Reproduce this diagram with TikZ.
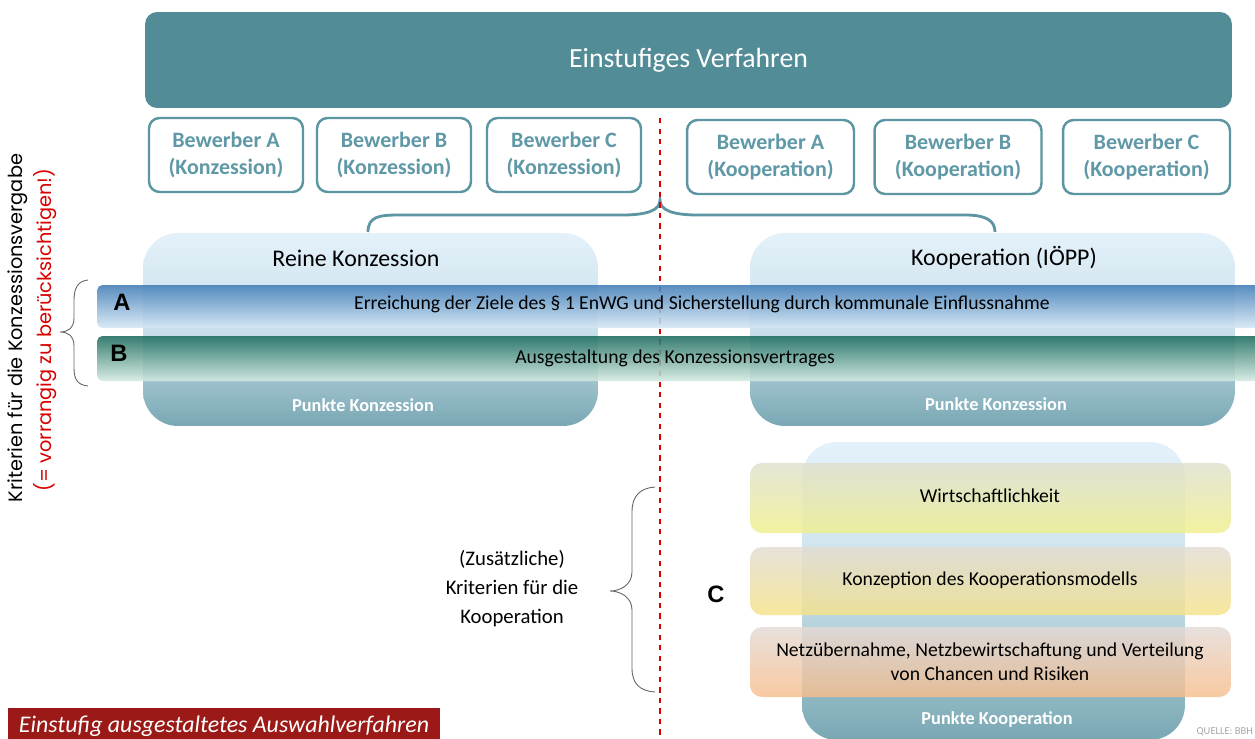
\documentclass[tikz,border=0pt]{standalone}
\usepackage{fontspec}
\setmainfont{Carlito}
\newfontfamily\geofont{Poppins}
\newfontfamily\arialfont{Liberation Sans}
\usetikzlibrary{positioning}
\definecolor{tealdark}{RGB}{82,140,150}
\definecolor{tealline}{RGB}{92,150,163}
\definecolor{tealtext}{RGB}{95,152,166}
\definecolor{paleblue}{RGB}{228,241,250}
\definecolor{midblue}{RGB}{200,224,234}
\definecolor{tealbot}{RGB}{120,167,179}
\definecolor{bandAtop}{RGB}{66,126,184}
\definecolor{bandAbot}{RGB}{214,232,245}
\definecolor{bandBtop}{RGB}{28,108,94}
\definecolor{bandBbot}{RGB}{212,235,226}
\definecolor{yelltop}{RGB}{224,224,206}
\definecolor{yellbot}{RGB}{240,240,140}
\definecolor{goldtop}{RGB}{226,220,210}
\definecolor{goldbot}{RGB}{246,226,136}
\definecolor{orantop}{RGB}{228,218,214}
\definecolor{oranbot}{RGB}{248,190,140}
\definecolor{redbanner}{RGB}{155,25,22}
\definecolor{bracegray}{RGB}{100,100,100}
\tikzset{
  bewerber/.style={draw=tealline, line width=1.4pt, rounded corners=6pt, fill=white,
    text=tealtext, font=\fontsize{12.5}{15}\selectfont\bfseries, align=center, inner sep=0pt},
  panel/.style={rounded corners=0.7cm, top color=paleblue, bottom color=tealbot,
    middle color=midblue, inner sep=0pt},
  band/.style={rounded corners=3pt, fill opacity=0.88, inner sep=0pt},
  cband/.style={rounded corners=0.24cm, fill opacity=0.82, inner sep=0pt},
  bandtext/.style={font=\fontsize{11.2}{13.5}\selectfont, align=center},
  punkte/.style={text=white, font=\fontsize{10.4}{12}\selectfont\bfseries},
  letter/.style={font=\fontsize{13.5}{15}\selectfont\arialfont\bfseries},
  brace/.style={draw=bracegray, line width=0.5pt},
}
\begin{document}
\begin{tikzpicture}[x=0.02cm,y=-0.02cm]
\useasboundingbox[fill=white] (0,0) rectangle (1255,738);
% header
\node[fill=tealdark, rounded corners=0.24cm, minimum width=21.74cm, minimum height=1.92cm,
  text=white, font=\fontsize{15.8}{18}\selectfont] (verfahren) at (688.5,60) {Einstufiges Verfahren};
% Bewerber
\node[bewerber, minimum width=3.08cm, minimum height=1.48cm] (bka) at (226,155) {Bewerber A\\(Konzession)};
\node[bewerber, minimum width=3.08cm, minimum height=1.48cm] (bkb) at (394,155) {Bewerber B\\(Konzession)};
\node[bewerber, minimum width=3.08cm, minimum height=1.48cm] (bkc) at (564,155) {Bewerber C\\(Konzession)};
\node[bewerber, minimum width=3.34cm, minimum height=1.48cm] (bpa) at (770.5,157) {Bewerber A\\(Kooperation)};
\node[bewerber, minimum width=3.34cm, minimum height=1.48cm] (bpb) at (958,157) {Bewerber B\\(Kooperation)};
\node[bewerber, minimum width=3.34cm, minimum height=1.48cm] (bpc) at (1146.5,157) {Bewerber C\\(Kooperation)};
% teal brace
\coordinate (bl) at (368,232);
\coordinate (tip) at (660,200);
\coordinate (br) at (995,232);
\draw[tealline, line width=1.6pt] (bl) .. controls (368,216) and (380,215) .. (400,215)
  -- (622,215) .. controls (648,215) and (660,210) .. (tip)
  .. controls (660,210) and (672,215) .. (698,215)
  -- (965,215) .. controls (985,215) and (995,220) .. (br);
% panels
\node[panel, minimum width=9.1cm, minimum height=3.86cm] (reine) at (370.5,329.5) {};
\node[panel, minimum width=9.7cm, minimum height=3.86cm] (koop) at (992.5,329.5) {};
\node[panel, minimum width=7.66cm, minimum height=5.96cm] (koopC) at (993.5,591) {};
\node[font=\fontsize{13.6}{15}\selectfont] (reinetxt) at (356,258) {Reine Konzession};
\node[font=\fontsize{13.6}{15}\selectfont] (kooptxt) at (1004,258) {Kooperation (IÖPP)};
\node[punkte] (pk1) at (363,405) {Punkte Konzession};
\node[punkte] (pk2) at (996,404) {Punkte Konzession};
\node[punkte] (pk3) at (997,720) {Punkte Kooperation};
% dashed divider
\coordinate (dtop) at (660,118);
\coordinate (dbot) at (660,738);
\draw[red!85!black, dashed, line width=0.7pt] (dtop) -- (dbot);
% bands A and B
\node[band, top color=bandAtop, bottom color=bandAbot, minimum width=23.36cm, minimum height=0.86cm] (bandA) at (681,306.5) {};
\node[band, top color=bandBtop, bottom color=bandBbot, minimum width=23.36cm, minimum height=0.9cm] (bandB) at (681,358.5) {};
\node[bandtext] (txtA) at (702,304) {Erreichung der Ziele des \S\ 1 EnWG und Sicherstellung durch kommunale Einflussnahme};
\node[bandtext] (txtB) at (675,358) {Ausgestaltung des Konzessionsvertrages};
\node[letter] (lA) at (122,302) {A};
\node[letter] (lB) at (119,353) {B};
% bands C
\node[cband, top color=yelltop, bottom color=yellbot, minimum width=9.62cm, minimum height=1.4cm] (wirt) at (990.5,498) {};
\node[cband, top color=goldtop, bottom color=goldbot, minimum width=9.62cm, minimum height=1.36cm] (konz) at (990.5,581) {};
\node[cband, top color=orantop, bottom color=oranbot, minimum width=9.62cm, minimum height=1.4cm] (netz) at (990.5,662) {};
\node[bandtext] (txtW) at (990,496) {Wirtschaftlichkeit};
\node[bandtext] (txtK) at (990,580) {Konzeption des Kooperationsmodells};
\node[bandtext] (txtN) at (990,662) {Netzübernahme, Netzbewirtschaftung und Verteilung\\von Chancen und Risiken};
\node[letter] (lC) at (716,594) {C};
% left criteria
\node[rotate=90, font=\fontsize{11}{13}\selectfont\geofont] (krit) at (18,328) {Kriterien für die Konzessionsvergabe};
\node[rotate=90, text=red!85!black, font=\fontsize{11}{13}\selectfont\geofont] (vorr) at (45,330) {(= vorrangig zu berücksichtigen!)};
\coordinate (abtop) at (88,280);
\coordinate (abtip) at (60,332);
\coordinate (abbot) at (88,386);
\draw[brace] (abtop) .. controls (78,281) and (74,288) .. (74,300) -- (74,318)
  .. controls (74,328) and (68,332) .. (abtip)
  .. controls (68,332) and (74,336) .. (74,346) -- (74,368)
  .. controls (74,380) and (78,385) .. (abbot);
% C criteria
\node[font=\fontsize{11.8}{16.5}\selectfont, align=center] (zusatz) at (512,589) {(Zusätzliche)\\Kriterien für die\\Kooperation};
\coordinate (ctop) at (655,487);
\coordinate (ctip) at (610,591);
\coordinate (cbot) at (655,692);
\draw[brace] (ctop) .. controls (640,488) and (632,496) .. (632,512) -- (632,572)
  .. controls (632,585) and (620,591) .. (ctip)
  .. controls (620,591) and (632,597) .. (632,610) -- (632,668)
  .. controls (632,684) and (640,691) .. (cbot);
% footer
\node[fill=redbanner, minimum width=8.64cm, minimum height=0.74cm, text=white,
  font=\fontsize{13.6}{16}\selectfont\itshape] (auswahl) at (224,726.5) {Einstufig ausgestaltetes Auswahlverfahren};
\node[anchor=south east, inner sep=1pt, text=gray!70, font=\fontsize{6}{7}\selectfont] (quelle) at (1255,738) {QUELLE: BBH};
\end{tikzpicture}
\end{document}
